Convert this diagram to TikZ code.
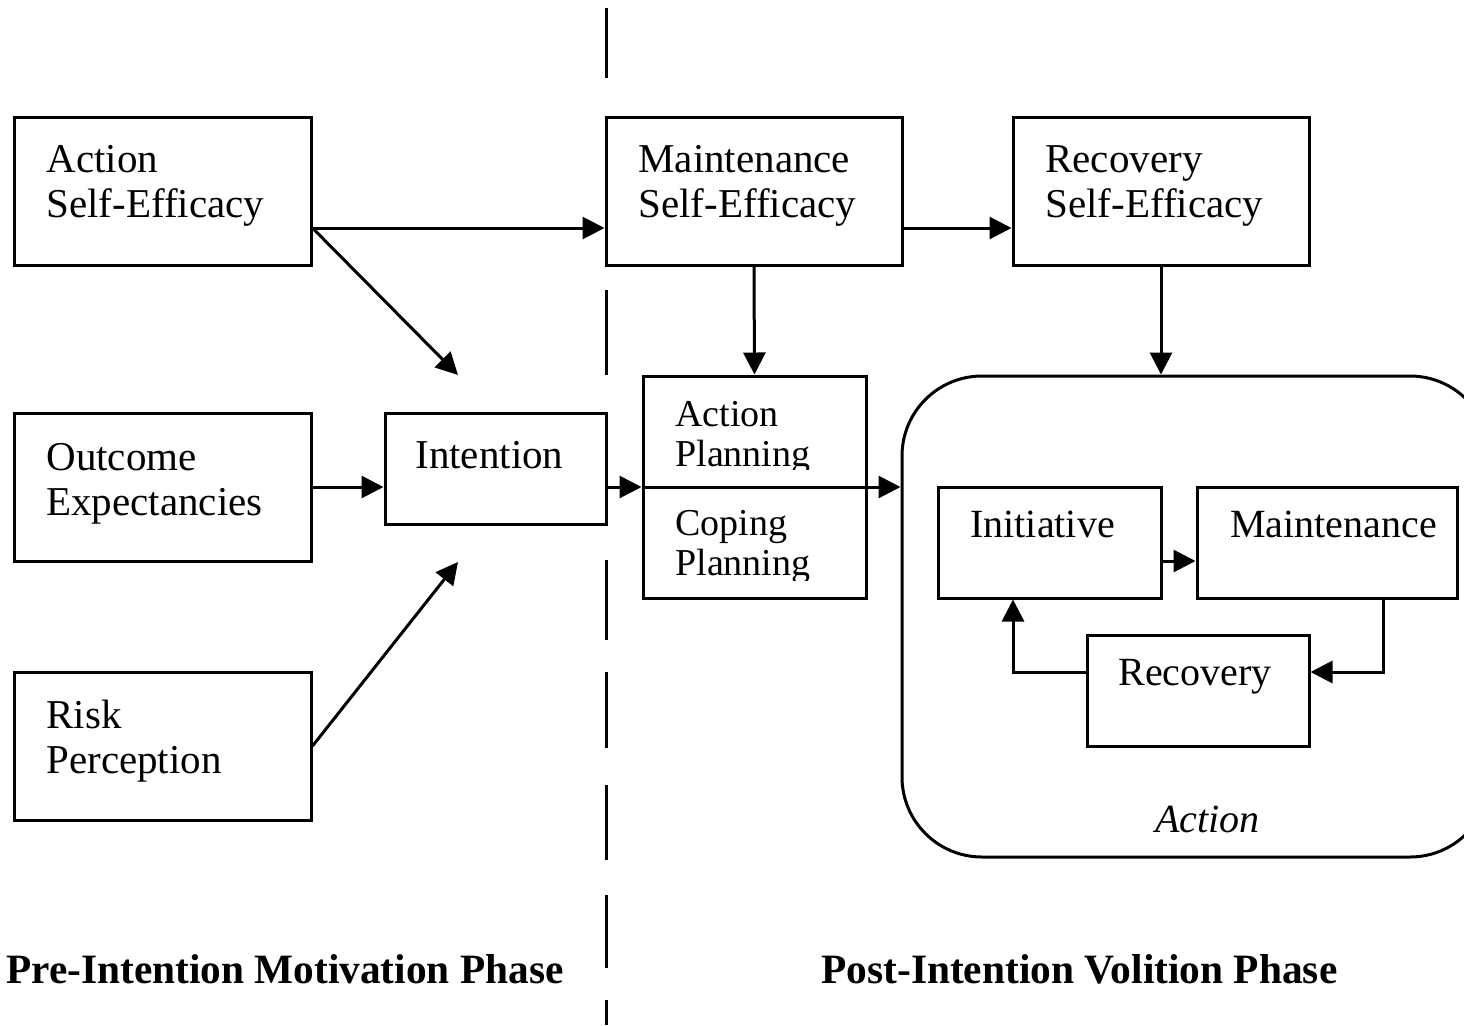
\documentclass[tikz,border=0pt]{standalone}
\usepackage{fontspec}
\setmainfont{Liberation Serif}
\usepackage{graphicx}
\usetikzlibrary{arrows.meta}
\begin{document}
\begin{tikzpicture}[x=0.5pt,y=-0.5pt,
  box/.style={draw, rectangle, inner sep=0pt, line width=1.5pt},
  txt/.style={anchor=base west, inner sep=0pt, font=\fontsize{20.5}{24}\selectfont},
  ptxt/.style={anchor=base west, inner sep=0pt, font=\fontsize{19}{22}\selectfont},
  arr/.style={-{Triangle[length=11pt,width=11pt]}, line width=1.5pt},
  divider/.style={line width=1.5pt}]
\useasboundingbox (0,0) rectangle (1464,1025);
\clip (0,0) rectangle (1464,1025);
\fill[white] (0,0) rectangle (1464,1025);

% boxes
\node[box, minimum width=148.5pt, minimum height=74pt] (ase) at (162.5,191) {};
\node[box, minimum width=148.5pt, minimum height=74pt] (oe) at (162.5,487) {};
\node[box, minimum width=148.5pt, minimum height=74pt] (rp) at (162.5,746) {};
\node[box, minimum width=110.5pt, minimum height=55.5pt] (int) at (495.5,468.5) {};
\node[box, minimum width=148pt, minimum height=74pt] (mse) at (754,191) {};
\node[box, minimum width=148pt, minimum height=74pt] (rse) at (1161,191) {};
\node[box, minimum width=111.5pt, minimum height=111pt] (plan) at (754.5,487) {};
\node[draw, line width=1.5pt, rounded corners=40pt, minimum width=294pt, minimum height=240.5pt, inner sep=0pt] (actbox) at (1196,616.5) {};
\node[box, minimum width=111.5pt, minimum height=55.5pt] (init) at (1049.5,542.5) {};
\node[box, minimum width=130pt, minimum height=55.5pt] (maint) at (1327,542.5) {};
\node[box, minimum width=111pt, minimum height=55.5pt] (rec) at (1198,690.5) {};

% texts
\node[txt] (ase1) at (46,172) {Action};
\node[txt] (ase2) at (46,217) {Self-Efficacy};
\node[txt] (oe1) at (46,470) {Outcome};
\node[txt] (oe2) at (46,515) {Expectancies};
\node[txt] (rp1) at (46,728) {Risk};
\node[txt] (rp2) at (46,773) {Perception};
\node[txt] (int1) at (415,468) {Intention};
\node[txt] (mse1) at (638,172) {Maintenance};
\node[txt] (mse2) at (638,217) {Self-Efficacy};
\node[txt] (rse1) at (1045,172) {Recovery};
\node[txt] (rse2) at (1045,217) {Self-Efficacy};
\begin{scope}
  \clip (643,376) rectangle (866,469);
  \node[ptxt] (ap1) at (675,426) {Action};
  \node[ptxt] (ap2) at (675,466) {Planning};
\end{scope}
\begin{scope}
  \clip (643,487) rectangle (866,580);
  \node[ptxt] (cp1) at (675,535) {Coping};
  \node[ptxt] (cp2) at (675,575) {Planning};
\end{scope}
\node[txt, font=\fontsize{20}{24}\selectfont] (init1) at (970,537) {Initiative};
\node[txt, font=\fontsize{20}{24}\selectfont] (maint1) at (1230,537) {Maintenance};
\node[txt, font=\fontsize{20}{24}\selectfont] (rec1) at (1118,685) {Recovery};
\node[txt, font=\fontsize{20}{24}\selectfont\itshape] (act1) at (1155,832) {Action};
\node[anchor=base west, inner sep=0pt] (ph1) at (6,983) {\resizebox{278.5pt}{14.5pt}{\bfseries Pre-Intention Motivation Phase}};
\node[anchor=base west, inner sep=0pt] (ph2) at (821,983) {\resizebox{258pt}{14.5pt}{\bfseries Post-Intention Volition Phase}};

% phase divider
\draw[divider] (606,8) -- (606,78) (606,290) -- (606,375) (606,560) -- (606,640)
  (606,672) -- (606,748) (606,785) -- (606,860) (606,895) -- (606,968) (606,1000) -- (606,1025);

% connectors
\coordinate (r228) at (0,228);
\coordinate (d1) at (458,375);
\coordinate (d2) at (458,562);
\coordinate (r561) at (0,561);
\coordinate (c1) at (1383,672);
\coordinate (c2) at (1013,672);
\draw[arr] (ase.east |- r228) -- (mse.west |- r228);
\draw[arr] (ase.east |- r228) -- (d1);
\draw[arr] (oe.east) -- (int.west |- oe.east);
\draw[arr] (rp.east) -- (d2);
\draw[arr] (int.east |- plan.west) -- (plan.west);
\draw[arr] (plan.west) -- (actbox.west |- plan.west);
\draw[arr] (mse.south) -- (plan.north);
\draw[arr] (rse.south) -- (actbox.north -| rse.south);
\draw[arr] (mse.east |- r228) -- (rse.west |- r228);
\draw[arr] (init.east |- r561) -- (maint.west |- r561);
\draw[arr] (maint.south -| c1) |- (rec.east |- c1);
\draw[arr] (rec.west |- c2) -| (init.south -| c2);
\end{tikzpicture}
\end{document}
